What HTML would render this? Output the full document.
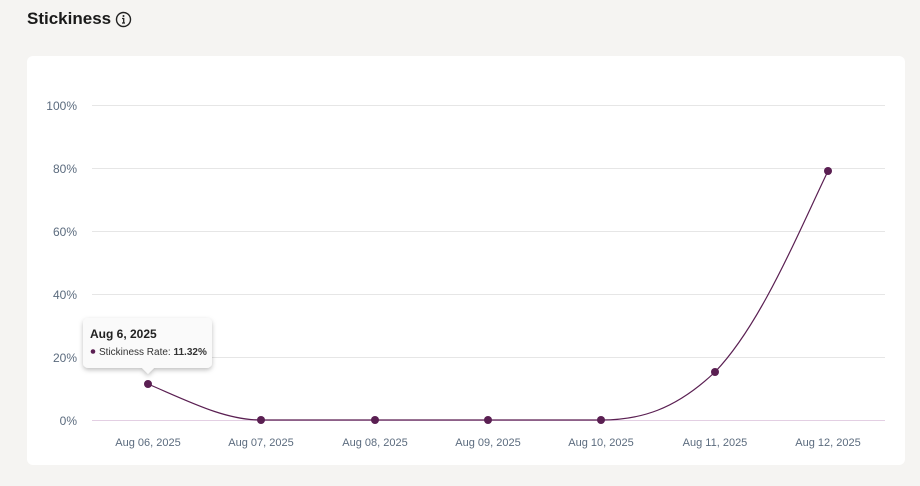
<!DOCTYPE html>
<html><head><style>
body{margin:0;width:920px;height:486px;background:#f5f4f2;font-family:"Liberation Sans",sans-serif;position:relative;overflow:hidden}
.t{position:absolute;left:27px;top:9px;font-size:17px;font-weight:bold;color:#1a1a1a}
.card{position:absolute;left:27px;top:56px;width:878px;height:409px;background:#fff;border-radius:6px}
</style></head><body>
<div class="t">Stickiness</div>
<svg style="position:absolute;left:115px;top:11px" width="17" height="17"><circle cx="8.5" cy="8.5" r="7" fill="none" stroke="#222" stroke-width="1.4"/><circle cx="8.5" cy="5" r="1" fill="#222"/><path d="M7 7.5h1.7v4.5M7 12h3" stroke="#222" stroke-width="1.3" fill="none"/></svg>
<div class="card"></div>
<svg style="position:absolute;left:0;top:0" width="920" height="486" font-family="Liberation Sans, sans-serif">
<g stroke="#e6e6e6" stroke-width="1">
<line x1="92" x2="885" y1="105.5" y2="105.5"/><line x1="92" x2="885" y1="168.5" y2="168.5"/><line x1="92" x2="885" y1="231.5" y2="231.5"/><line x1="92" x2="885" y1="294.5" y2="294.5"/><line x1="92" x2="885" y1="357.5" y2="357.5"/>
</g>
<line x1="92" x2="885" y1="420.5" y2="420.5" stroke="#e3cfe3"/>
<g fill="#5b6b7e" font-size="12" text-anchor="end">
<text x="77" y="110">100%</text><text x="77" y="173">80%</text><text x="77" y="236">60%</text><text x="77" y="299">40%</text><text x="77" y="362">20%</text><text x="77" y="425">0%</text>
</g>
<g fill="#5b6b7e" font-size="11" text-anchor="middle">
<text x="148" y="446">Aug 06, 2025</text><text x="261" y="446">Aug 07, 2025</text><text x="375" y="446">Aug 08, 2025</text><text x="488" y="446">Aug 09, 2025</text><text x="601" y="446">Aug 10, 2025</text><text x="715" y="446">Aug 11, 2025</text><text x="828" y="446">Aug 12, 2025</text>
</g>
<path d="M148 384 C190 402 225 420 261 420 L601 420 C640 420 675 410 715 372 C760 325 795 240 828 171" fill="none" stroke="#5a1f52" stroke-width="1.2"/>
<g fill="#5a1f52">
<circle cx="148" cy="384" r="4"/><circle cx="261" cy="420" r="4"/><circle cx="375" cy="420" r="4"/><circle cx="488" cy="420" r="4"/><circle cx="601" cy="420" r="4"/><circle cx="715" cy="372" r="4"/><circle cx="828" cy="171" r="4"/>
</g>
<defs><filter id="s" x="-20%" y="-30%" width="140%" height="170%"><feDropShadow dx="0" dy="2" stdDeviation="2.5" flood-opacity="0.25"/></filter></defs>
<path d="M88 318 H207 a5 5 0 0 1 5 5 V363 a5 5 0 0 1 -5 5 H154 L148 374 L142 368 H88 a5 5 0 0 1 -5 -5 V323 a5 5 0 0 1 5 -5Z" fill="#fafafa" filter="url(#s)"/>
<text x="90" y="338" font-size="12" font-weight="bold" fill="#222">Aug 6, 2025</text>
<circle cx="93" cy="351.5" r="2.3" fill="#5a1f52"/>
<text x="99" y="355" font-size="10" fill="#333">Stickiness Rate: <tspan font-weight="bold">11.32%</tspan></text>
</svg>
</body></html>
